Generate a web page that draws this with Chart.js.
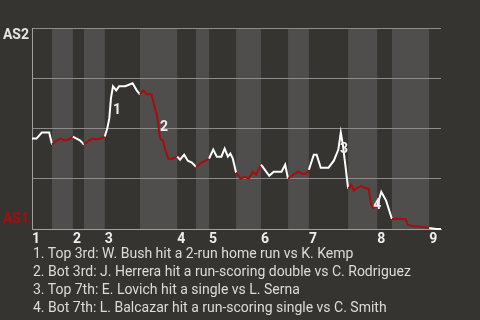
<!DOCTYPE html>
<html>
<head>
<meta charset="utf-8">
<script src="https://cdn.jsdelivr.net/npm/chart.js@4"></script>
<style>
  html, body { margin: 0; padding: 0; background: #363430; }
  #wrap { position: relative; width: 480px; height: 320px; }
  canvas { position: absolute; left: 0; top: 0; }
  #notes {
    position: absolute; left: 33px; top: 244px;
    font: 14px Roboto, sans-serif; line-height: 18px; color: #dcdcdc;
  }
</style>
</head>
<body>
<div id="wrap">
  <canvas id="wpChart" width="480" height="320"></canvas>
  <div id="notes"></div>
</div>
<script>
// game progress (0-100) where each half inning begins; even = top, odd = bottom
const halfStarts = [0, 4.9, 10.0, 12.7, 17.8, 26.4, 35.5, 40.1, 43.3, 49.9, 56.0, 62.6, 67.7, 77.3, 84.4, 88.0, 97.1];
const innings = ['1', '2', '3', '4', '5', '6', '7', '8', '9'];

// win probability path (1 = AS2, 0 = AS1)
const progress = [0, 1.1, 2.4, 4.2, 4.9, 6.0, 7.0, 8.0, 8.9, 10.0,
  10.9, 11.8, 12.7, 13.8, 14.8, 15.8, 16.8, 17.8, 18.4, 18.9,
  19.3, 19.8, 20.6, 21.3, 22.8, 24.6, 25.6, 26.4, 27.2, 28.0,
  29.2, 29.8, 30.5, 31.0, 31.3, 32.0, 32.5, 33.3, 34.2, 35.5,
  36.2, 37.2, 38.1, 39.1, 40.1, 41.4, 42.9, 43.3, 44.3, 45.2,
  46.3, 47.1, 47.9, 48.5, 49.1, 49.9, 51.0, 52.0, 53.0, 54.0,
  54.8, 56.0, 56.9, 58.0, 59.1, 61.0, 61.9, 62.6, 63.9, 65.0,
  66.0, 67.0, 67.7, 68.9, 69.6, 70.6, 72.5, 73.8, 74.9, 75.5,
  76.0, 76.6, 77.3, 78.1, 78.7, 79.5, 80.5, 81.2, 82.3, 82.9,
  83.4, 84.4, 85.4, 86.6, 88.0, 89.2, 91.3, 91.9, 93.1, 95.5,
  97.1, 98.8, 100];
const winProb = [.45, .45, .48, .48, .42, .44, .45, .44, .445, .46,
  .45, .44, .42, .44, .45, .445, .45, .46, .50, .55,
  .65, .71, .69, .71, .71, .725, .69, .67, .69, .67,
  .67, .62, .57, .50, .45, .44, .40, .35, .35, .36,
  .345, .37, .34, .33, .31, .33, .345, .35, .395, .36,
  .36, .40, .36, .375, .35, .28, .25, .26, .25, .285,
  .27, .32, .295, .265, .285, .285, .32, .25, .27, .285,
  .275, .275, .295, .37, .37, .305, .305, .34, .395, .48,
  .42, .32, .20, .22, .19, .205, .215, .205, .20, .125,
  .105, .115, .185, .14, .05, .05, .05, .02, .015, .01,
  .005, 0, 0];

// key plays
const playLabels = ['1', '2', '3', '4'];
const playX = [20.8, 32.3, 76.3, 84.4];
const playY = [0.59, 0.505, 0.395, 0.115];
const playNotes = [
  '1. Top 3rd: W. Bush hit a 2-run home run vs K. Kemp',
  '2. Bot 3rd: J. Herrera hit a run-scoring double vs C. Rodriguez',
  '3. Top 7th: E. Lovich hit a single vs L. Serna',
  '4. Bot 7th: L. Balcazar hit a run-scoring single vs C. Smith'
];

const WHITE = '#ffffff';
const RED = '#a50e0e';
const LIGHT_BAND = '#4f4e4c';

function halfIndex(x) {
  let idx = 0;
  for (let i = 0; i < halfStarts.length; i++) {
    if (x >= halfStarts[i]) idx = i;
  }
  return idx;
}

const bandsPlugin = {
  id: 'bands',
  beforeDraw(chart) {
    const { ctx, chartArea, scales } = chart;
    const x = scales.x;
    ctx.save();
    ctx.fillStyle = LIGHT_BAND;
    for (let i = 1; i < halfStarts.length; i += 2) {
      const x0 = x.getPixelForValue(halfStarts[i]);
      const x1 = x.getPixelForValue(i + 1 < halfStarts.length ? halfStarts[i + 1] : 100);
      ctx.fillRect(x0, chartArea.top, x1 - x0, chartArea.bottom - chartArea.top);
    }
    ctx.restore();
  },
  afterDraw(chart) {
    const { ctx, chartArea, scales } = chart;
    ctx.save();
    ctx.font = 'bold 14px Roboto, sans-serif';
    ctx.textAlign = 'right';
    ctx.textBaseline = 'middle';
    ctx.fillStyle = '#e6e6e6';
    ctx.fillText('AS2', chartArea.left - 3, chartArea.top + 7);
    ctx.fillStyle = RED;
    ctx.fillText('AS1', chartArea.left - 3, chartArea.bottom - 10);
    ctx.textAlign = 'center';
    ctx.fillStyle = '#eeeeee';
    playLabels.forEach((t, i) => {
      ctx.fillText(t, scales.x.getPixelForValue(playX[i]), scales.y.getPixelForValue(playY[i]));
    });
    ctx.restore();
  }
};

new Chart(document.getElementById('wpChart'), {
  type: 'line',
  data: {
    datasets: [{
      data: progress.map((p, i) => ({ x: p, y: winProb[i] })),
      borderWidth: 2,
      borderColor: WHITE,
      pointRadius: 0,
      tension: 0,
      clip: false,
      segment: {
        borderColor: ctx => {
          const mid = (ctx.p0.parsed.x + ctx.p1.parsed.x) / 2;
          return halfIndex(mid) % 2 === 0 ? WHITE : RED;
        }
      }
    }]
  },
  plugins: [bandsPlugin],
  options: {
    responsive: false,
    animation: false,
    layout: { padding: { left: 0, right: 39, top: 28, bottom: 71 } },
    plugins: { legend: { display: false }, tooltip: { enabled: false } },
    scales: {
      x: {
        type: 'linear', min: 0, max: 100,
        grid: { display: false, drawTicks: false },
        border: { display: true, color: '#a0a0a0', width: 1 },
        afterBuildTicks: s => { s.ticks = halfStarts.filter((v, i) => i % 2 === 0).map(v => ({ value: v })); },
        afterFit: s => { s.height = 20; },
        ticks: {
          align: 'start',
          padding: 2,
          color: '#eeeeee',
          font: { family: 'Roboto', size: 14, weight: 'bold' },
          callback: (v, i) => innings[i]
        }
      },
      y: {
        min: 0, max: 1,
        afterBuildTicks: s => { s.ticks = [0, 0.25, 0.5, 0.75, 1].map(v => ({ value: v })); },
        afterFit: s => { s.width = 32; },
        grid: { color: '#8c8c8c', drawTicks: false },
        border: { display: true, color: '#a0a0a0', width: 1 },
        ticks: { display: false }
      }
    }
  }
});

document.getElementById('notes').innerHTML = playNotes.map(n => '<div>' + n + '</div>').join('');
</script>
</body>
</html>
